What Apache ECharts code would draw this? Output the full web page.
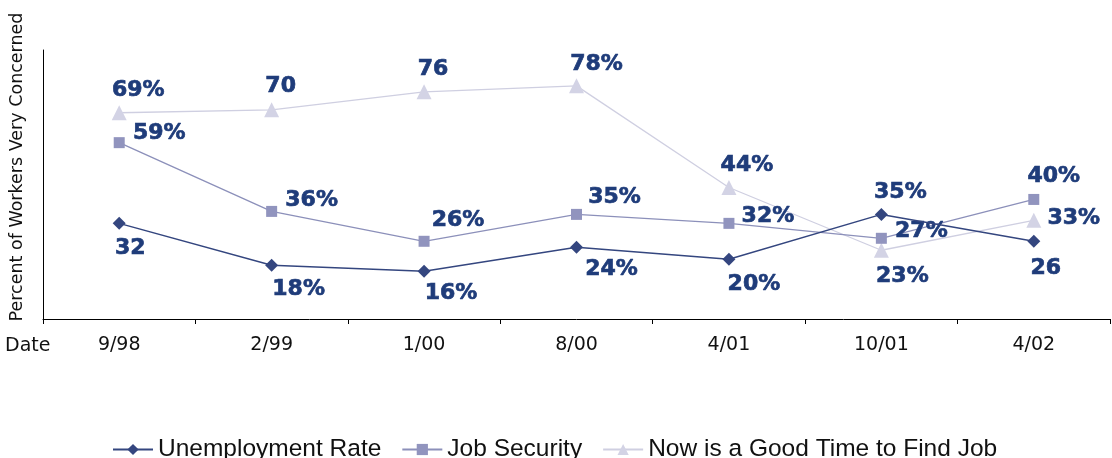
<!DOCTYPE html>
<html>
<head>
<meta charset="utf-8">
<script src="https://cdn.jsdelivr.net/npm/echarts@6/dist/echarts.min.js"></script>
<style>
  html, body { margin: 0; padding: 0; background: #fff; }
  #chart { width: 1112px; height: 458px; }
</style>
</head>
<body>
<div id="chart"></div>
<script>
// Survey dates
const dates = ['9/98', '2/99', '1/00', '8/00', '4/01', '10/01', '4/02'];

// Percent of workers very concerned, by topic
const unemployment = [32, 18, 16, 24, 20, 35, 26];
const jobSecurity = [59, 36, 26, 35, 32, 27, 40];
const goodTimeToFindJob = [69, 70, 76, 78, 44, 23, 33];

// Label text per point (some points show a percent sign, some do not)
const unemploymentText = ['32', '18%', '16%', '24%', '20%', '35%', '26'];
const jobSecurityText = ['59%', '36%', '26%', '35%', '32%', '27%', '40%'];
const goodTimeText = ['69%', '70', '76', '78%', '44%', '23%', '33%'];

// Label offsets from each marker centre
const unemploymentOffset = [[11, 25], [27, 24], [27, 22], [35, 22], [25, 25], [19, -22], [12, 27]];
const jobSecurityOffset = [[40, -9], [40, -11], [34, -21], [38, -17], [39, -7], [40, -7], [20, -23]];
const goodTimeOffset = [[19, -22], [9, -23], [9, -23], [20, -22], [18, -22], [21, 26], [40, -2]];

const labelColor = '#1f3c7a';

function buildData(values, texts, offsets) {
  return values.map((v, i) => ({
    value: v,
    label: {
      show: true,
      position: 'inside',
      offset: offsets[i],
      formatter: texts[i],
      color: labelColor,
      fontFamily: 'DejaVu Sans',
      fontWeight: 'bold',
      fontSize: 22,
      textBorderColor: labelColor,
      textBorderWidth: 0.7,
      align: 'center',
      verticalAlign: 'middle'
    }
  }));
}

const chart = echarts.init(document.getElementById('chart'), null, { renderer: 'canvas' });

chart.setOption({
  animation: false,
  backgroundColor: '#ffffff',
  grid: { left: 43, right: 2, top: 50, bottom: 139, containLabel: false },
  legend: {
    left: 107,
    top: 432,
    itemWidth: 40,
    itemHeight: 14,
    itemGap: 20,
    textStyle: { fontFamily: 'Liberation Sans', fontSize: 24.5, color: '#111' },
    data: ['Unemployment Rate', 'Job Security', 'Now is a Good Time to Find Job']
  },
  xAxis: {
    type: 'category',
    data: dates,
    boundaryGap: true,
    axisLine: { lineStyle: { color: '#000', width: 1 } },
    axisTick: { show: true, length: 5, inside: false, lineStyle: { color: '#000' } },
    axisLabel: { color: '#111', fontFamily: 'DejaVu Sans', fontSize: 19, margin: 17 },
    splitLine: { show: false }
  },
  yAxis: {
    type: 'value',
    min: 0,
    max: 90,
    interval: 10,
    axisLine: { show: true, lineStyle: { color: '#000', width: 1 } },
    axisTick: { show: false },
    axisLabel: { show: false },
    splitLine: { show: false }
  },
  graphic: [
    {
      type: 'text',
      x: 17,
      y: 167,
      rotation: Math.PI / 2,
      style: {
        text: 'Percent of Workers Very Concerned',
        fontFamily: 'DejaVu Sans',
        fontSize: 17.5,
        fill: '#111',
        textAlign: 'center',
        textVerticalAlign: 'middle'
      }
    },
    {
      type: 'text',
      x: 5,
      y: 346,
      style: {
        text: 'Date',
        fontFamily: 'DejaVu Sans',
        fontSize: 19,
        fill: '#111',
        textAlign: 'left',
        textVerticalAlign: 'middle'
      }
    }
  ],
  series: [
    {
      name: 'Now is a Good Time to Find Job',
      type: 'line',
      z: 2,
      symbol: 'triangle',
      symbolSize: 15,
      lineStyle: { color: '#cfcfe1', width: 1.3 },
      itemStyle: { color: '#d3d3e5' },
      data: buildData(goodTimeToFindJob, goodTimeText, goodTimeOffset)
    },
    {
      name: 'Job Security',
      type: 'line',
      z: 3,
      symbol: 'rect',
      symbolSize: 11,
      lineStyle: { color: '#8c90ba', width: 1.3 },
      itemStyle: { color: '#9194be' },
      data: buildData(jobSecurity, jobSecurityText, jobSecurityOffset)
    },
    {
      name: 'Unemployment Rate',
      type: 'line',
      z: 4,
      symbol: 'diamond',
      symbolSize: 13,
      lineStyle: { color: '#34467f', width: 1.5 },
      itemStyle: { color: '#34467f' },
      data: buildData(unemployment, unemploymentText, unemploymentOffset)
    }
  ]
});
</script>
</body>
</html>
